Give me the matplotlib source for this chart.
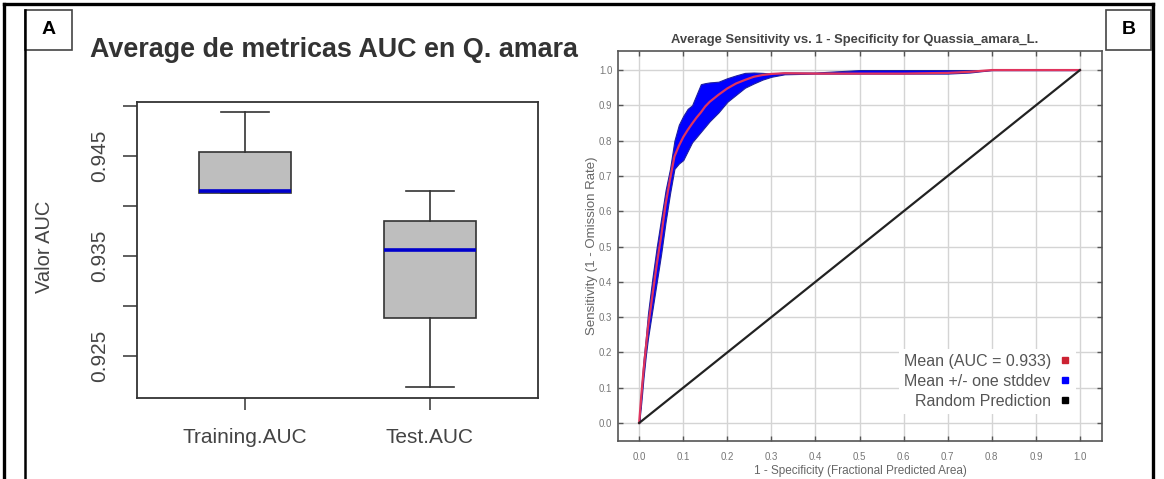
import matplotlib
matplotlib.use("Agg")
import matplotlib.pyplot as plt
from matplotlib.lines import Line2D
from matplotlib.patches import Rectangle

plt.rcParams["font.family"] = ["Liberation Sans", "DejaVu Sans"]

# panel A: AUC summary per run type
box_labels = ["Training.AUC", "Test.AUC"]
box_whishi = [0.9494, 0.9415]
box_q3 = [0.9454, 0.9385]
box_med = [0.9415, 0.9356]
box_q1 = [0.9413, 0.9288]
box_whislo = [0.9413, 0.9219]
box_ticks = [0.925, 0.930, 0.935, 0.940, 0.945, 0.950]
box_ticklabels = ["0.925", "", "0.935", "", "0.945", ""]

# panel B: averaged ROC curve
roc_fpr = [0.0, 0.005, 0.01, 0.015, 0.02, 0.03, 0.04, 0.05, 0.06, 0.07, 0.08,
           0.09, 0.10, 0.11, 0.12, 0.13, 0.14, 0.15, 0.16, 0.18, 0.20, 0.22,
           0.24, 0.26, 0.28, 0.30, 0.33, 0.40, 0.50, 0.60, 0.70, 0.75, 0.80,
           0.90, 1.0]
roc_mean = [0.0, 0.08, 0.15, 0.21, 0.27, 0.36, 0.45, 0.53, 0.62, 0.69, 0.755,
            0.785, 0.81, 0.83, 0.848, 0.865, 0.88, 0.897, 0.91, 0.93, 0.948, 0.962,
            0.972, 0.981, 0.986, 0.989, 0.991, 0.99, 0.99, 0.99, 0.992, 0.995, 1.0,
            1.0, 1.0]
roc_upper = [0.0, 0.10, 0.18, 0.24, 0.31, 0.41, 0.50, 0.58, 0.66, 0.72, 0.80,
             0.845, 0.87, 0.89, 0.90, 0.93, 0.96, 0.963, 0.965, 0.967, 0.977, 0.985,
             0.992, 0.993, 0.992, 0.99, 0.993, 0.993, 1.0, 1.0, 1.0, 1.0, 1.0,
             1.0, 1.0]
roc_lower = [0.0, 0.06, 0.13, 0.19, 0.24, 0.32, 0.40, 0.48, 0.57, 0.65, 0.72,
             0.735, 0.745, 0.77, 0.795, 0.81, 0.825, 0.84, 0.855, 0.88, 0.91, 0.93,
             0.95, 0.962, 0.973, 0.981, 0.988, 0.99, 0.99, 0.99, 0.99, 0.993, 1.0,
             1.0, 1.0]
random_x = [0.0, 1.0]
random_y = [0.0, 1.0]
auc_mean = 0.933
roc_ticks = [0.0, 0.1, 0.2, 0.3, 0.4, 0.5, 0.6, 0.7, 0.8, 0.9, 1.0]

W, H = 1164, 479
fig = plt.figure(figsize=(W / 100, H / 100), dpi=100)


def fx(x):
    return x / W


def fy(y):
    return 1 - y / H


def add_axes_px(left, top, right, bottom):
    return fig.add_axes([fx(left), fy(bottom), (right - left) / W, (bottom - top) / H])


# frame lines around the figure
for xs, ys, lw in [([4, 4], [H + 5, 4], 2.4), ([4, 1153], [4, 4], 2.4),
                   ([1153, 1153], [4, H + 5], 2.4), ([25, 25], [10, H + 5], 1.8)]:
    fig.add_artist(Line2D([fx(v) for v in xs], [fy(v) for v in ys], color="black",
                          lw=lw, transform=fig.transFigure))
for left, right in [(25, 72), (1106, 1151)]:
    fig.add_artist(Rectangle((fx(left), fy(50)), (right - left) / W, 40 / H,
                             fill=False, ec="#444444", lw=1.2, transform=fig.transFigure))
fig.text(fx(48.5), fy(30), "A", ha="center", va="center", fontsize=14, fontweight="bold")
fig.text(fx(1128.5), fy(30), "B", ha="center", va="center", fontsize=14, fontweight="bold")

# ---- panel A ----
ax1 = add_axes_px(137, 102, 538, 398)
stats = []
for i in range(len(box_labels)):
    stats.append({"label": box_labels[i], "whislo": box_whislo[i], "q1": box_q1[i],
                  "med": box_med[i], "q3": box_q3[i], "whishi": box_whishi[i]})
ax1.bxp(stats, positions=[1, 2], widths=0.5, patch_artist=True, showfliers=False,
        boxprops=dict(facecolor="#bebebe", edgecolor="#333333", lw=1.2),
        medianprops=dict(color="#0000cc", lw=2.6),
        whiskerprops=dict(color="#333333", lw=1.2),
        capprops=dict(color="#333333", lw=1.2), capwidths=0.26)
ax1.set_xlim(0.416, 2.584)
ax1.set_ylim(0.9208, 0.9504)
ax1.set_yticks(box_ticks)
ax1.set_yticklabels(box_ticklabels, rotation=90, va="center")
ax1.tick_params(axis="y", length=10, width=1.1, pad=10, labelsize=15,
                colors="#333333", labelcolor="#444444")
ax1.tick_params(axis="x", length=8.5, width=1.1, pad=13, labelsize=15,
                colors="#333333", labelcolor="#444444")
for s in ax1.spines.values():
    s.set_color("#333333")
    s.set_linewidth(1.3)
fig.text(fx(45), fy(247), "Valor AUC", rotation=90, ha="center", va="center",
         fontsize=14.5, color="#444444")
fig.text(fx(90), fy(50), "Average de metricas AUC en Q. amara", ha="left", va="center",
         fontsize=19.4, fontweight="bold", color="#333333")

# ---- panel B ----
ax2 = add_axes_px(618, 51, 1102, 441)
ax2.fill_between(roc_fpr, roc_lower, roc_upper, facecolor="#0000ff",
                 edgecolor="#2020a0", lw=0.8, zorder=2)
ax2.plot(roc_fpr, roc_mean, color="#e0345e", lw=1.6, zorder=3)
ax2.plot(random_x, random_y, color="#222222", lw=1.6, zorder=3)
ax2.set_xlim(-0.048, 1.05)
ax2.set_ylim(-0.051, 1.054)
ax2.set_xticks(roc_ticks)
ax2.set_yticks(roc_ticks)
ax2.set_xticklabels([f"{t:.1f}" for t in roc_ticks])
ax2.set_yticklabels([f"{t:.1f}" for t in roc_ticks])
ax2.grid(True, color="#d4d4d4", lw=1.0)
ax2.set_axisbelow(True)
ax2.tick_params(direction="in", length=3.5, width=1, top=True, right=True,
                colors="#555555", labelcolor="#777777", labelsize=7)
ax2.tick_params(axis="x", pad=8)
ax2.tick_params(axis="y", pad=4)
for s in ax2.spines.values():
    s.set_color("#555555")
    s.set_linewidth(1.2)
ax2.set_xlabel("1 - Specificity (Fractional Predicted Area)", fontsize=8.5, color="#666666",
               labelpad=2)
ax2.set_ylabel("Sensitivity (1 - Omission Rate)", fontsize=9.5, color="#666666", labelpad=1)
fig.text(fx(855), fy(40), "Average Sensitivity vs. 1 - Specificity for Quassia_amara_L.",
         ha="center", va="center", fontsize=9.4, fontweight="bold", color="#444444")

handles = [Line2D([], [], ls="none", marker="s", ms=4.5, color="#cc2233"),
           Line2D([], [], ls="none", marker="s", ms=4.5, color="#0000ff"),
           Line2D([], [], ls="none", marker="s", ms=4.5, color="#000000")]
labels = [f"Mean (AUC = {auc_mean:.3f})", "Mean +/- one stddev", "Random Prediction"]
leg = ax2.legend(handles, labels, loc="lower right", bbox_to_anchor=(0.947, 0.07),
                 borderaxespad=0, markerfirst=False, fontsize=11.5, labelcolor="#555555",
                 handlelength=0.8, handletextpad=0.5, labelspacing=0.32, borderpad=0.3,
                 frameon=True, framealpha=1, facecolor="white", edgecolor="none",
                 fancybox=False)
for t in leg.get_texts():
    t.set_ha("right")
leg._legend_box.align = "right"

fig.savefig("out.png", dpi=100)
